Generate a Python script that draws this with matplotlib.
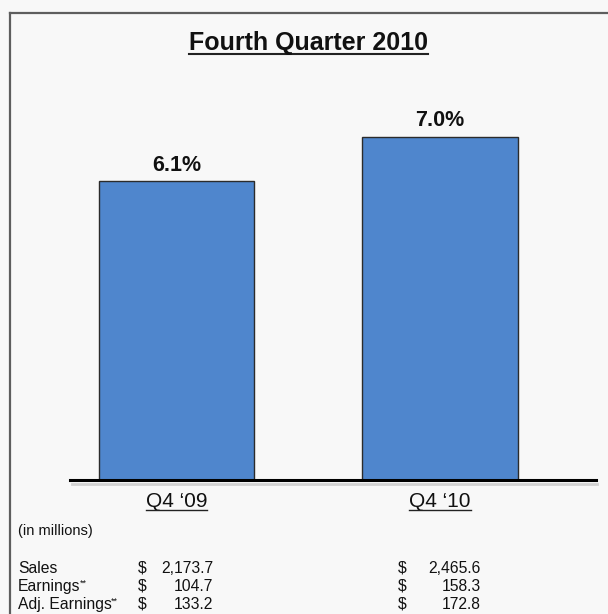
import matplotlib.pyplot as plt
from matplotlib.lines import Line2D
from matplotlib.transforms import blended_transform_factory

plt.rcParams['font.family'] = ['Liberation Sans', 'DejaVu Sans']

# figure size in pixels
W, H = 608, 614

# chart data
quarters = ['Q4 \u201809', 'Q4 \u201810']
margin_pct = [6.1, 7.0]
row_names = ['Sales', 'Earnings', 'Adj. Earnings']
row_marks = ['', '**', '**']
q4_09 = [2173.7, 104.7, 133.2]
q4_10 = [2465.6, 158.3, 172.8]

bg = '#f8f8f8'
bar_color = '#4f86cd'
ink = '#111111'


def fx(px):
    return px / W


def fy(py):
    return 1 - py / H


fig = plt.figure(figsize=(W / 100, H / 100), dpi=100, facecolor=bg)

# bar panel, zero line sits on the thick baseline
ax = fig.add_axes([fx(70), fy(480), fx(596) - fx(70), fy(20) - fy(480)])
ax.set_facecolor('none')
x = list(range(len(quarters)))
bars = ax.bar(x, margin_pct, width=0.59, color=bar_color,
              edgecolor='#2b2b2b', linewidth=1, zorder=2)
ax.set_xlim(-0.404, 1.592)
ax.set_ylim(0, 460 / 49)
for side in ['top', 'left', 'right']:
    ax.spines[side].set_visible(False)
ax.spines['bottom'].set_linewidth(2.2)
ax.spines['bottom'].set_color('black')
ax.set_xticks([])
ax.set_yticks([])

ax.bar_label(bars, labels=[f'{v:.1f}%' for v in margin_pct], padding=4,
             fontsize=15.5, fontweight='bold', color=ink)

# soft shadow under the baseline
fig.add_artist(Line2D([fx(72), fx(597)], [fy(484), fy(484)],
                      color='#d2d2d2', lw=2))

# outer frame (top and left edges)
frame_col = '#5e5e5e'
fig.add_artist(Line2D([fx(9.5), fx(9.5)], [fy(12.5), 0], color=frame_col, lw=1.6))
fig.add_artist(Line2D([fx(9.5), 1], [fy(12.5), fy(12.5)], color=frame_col, lw=1.6))

title = fig.text(fx(308.5), fy(50), 'Fourth Quarter 2010', ha='center',
                 va='baseline', fontsize=18, fontweight='bold', color=ink)

trans = blended_transform_factory(ax.transData, fig.transFigure)
qlabels = []
for i, q in enumerate(quarters):
    qlabels.append(ax.text(x[i], fy(507), q, transform=trans, ha='center',
                           va='baseline', fontsize=15, color=ink))

# table of figures below the bars
fig.text(fx(18), fy(535), '(in millions)', ha='left', va='baseline',
         fontsize=10.5, color=ink)
for i, name in enumerate(row_names):
    yb = fy(573 + 18 * i)
    t = fig.text(fx(18), yb, name, ha='left', va='baseline', fontsize=11.3,
                 color=ink)
    if row_marks[i]:
        ax.annotate(row_marks[i], xy=(1, 1), xycoords=t, xytext=(-0.5, 0),
                    textcoords='offset points', ha='left', va='top',
                    fontsize=6.5, color=ink, annotation_clip=False)
    fig.text(fx(138), yb, '$', ha='left', va='baseline', fontsize=11.3, color=ink)
    fig.text(fx(213), yb, f'{q4_09[i]:,.1f}', ha='right', va='baseline',
             fontsize=11.3, color=ink)
    fig.text(fx(398), yb, '$', ha='left', va='baseline', fontsize=11.3, color=ink)
    fig.text(fx(481), yb, f'{q4_10[i]:,.1f}', ha='right', va='baseline',
             fontsize=11.3, color=ink)

# underline the title and the quarter labels
fig.canvas.draw()
renderer = fig.canvas.get_renderer()


def underline(txt, y_px, lw):
    bb = txt.get_window_extent(renderer)
    fig.add_artist(Line2D([bb.x0 / W, bb.x1 / W], [fy(y_px), fy(y_px)],
                          color='#222222', lw=lw))


underline(title, 53.5, 1.5)
for t in qlabels:
    underline(t, 509.5, 1.0)

fig.savefig('out.png', dpi=100, facecolor=bg)
